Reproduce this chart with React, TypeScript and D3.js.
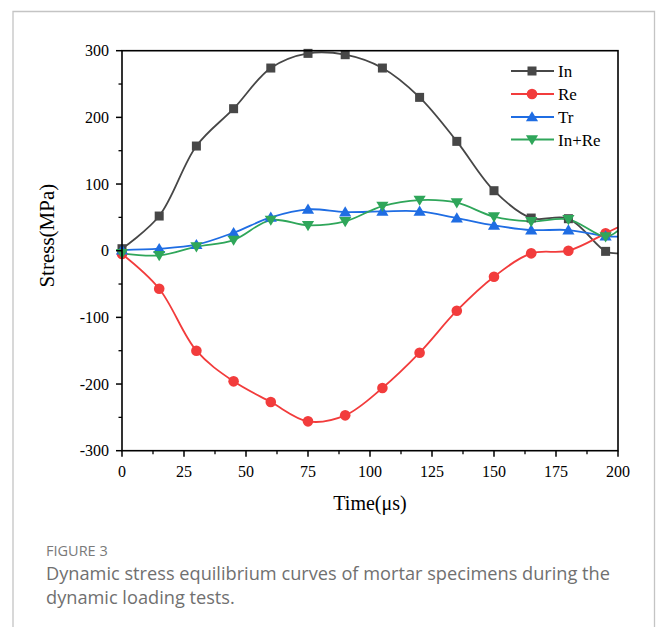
import React from "react";
import * as d3 from "d3";

const times = [0, 15, 30, 45, 60, 75, 90, 105, 120, 135, 150, 165, 180, 195, 200];
const inValues = [3, 52, 157, 213, 274, 296, 294, 274, 230, 164, 90, 49, 48, -1, -4];
const reValues = [-5, -57, -150, -196, -227, -256, -247, -206, -153, -90, -39, -4, 0, 26, 35];
const trValues = [1, 3, 9, 27, 50, 62, 58, 59, 59, 49, 38, 31, 31, 22, 21];
const inReValues = [-4, -7, 6, 16, 46, 38, 44, 67, 76, 72, 51, 44, 47, 21, 30];
const markerTimes = [0, 15, 30, 45, 60, 75, 90, 105, 120, 135, 150, 165, 180, 195];

const seriesNames = ["In", "Re", "Tr", "In+Re"];
const seriesColors = ["#474747", "#f23c3c", "#1f6de3", "#2fa65a"];
const seriesShapes = ["square", "circle", "triangle", "triangleDown"];
const seriesValues = [inValues, reValues, trValues, inReValues];

const xTicks = [0, 25, 50, 75, 100, 125, 150, 175, 200];
const yTicks = [-300, -200, -100, 0, 100, 200, 300];

function Marker({ shape, x, y, color }: { shape: string; x: number; y: number; color: string }) {
  if (shape === "square") return <rect x={x - 4.5} y={y - 4.5} width={9} height={9} fill={color} />;
  if (shape === "circle") return <circle cx={x} cy={y} r={5.3} fill={color} />;
  const s = 5.8;
  if (shape === "triangle")
    return <path d={`M${x},${y - s}L${x + s * 1.05},${y + s * 0.75}L${x - s * 1.05},${y + s * 0.75}Z`} fill={color} />;
  return <path d={`M${x},${y + s}L${x + s * 1.05},${y - s * 0.75}L${x - s * 1.05},${y - s * 0.75}Z`} fill={color} />;
}

export default function App() {
  const W = 656, H = 627;
  const x0 = 122, x1 = 618, yTop = 50.7, yBot = 450.7;
  const x = d3.scaleLinear().domain([0, 200]).range([x0, x1]);
  const y = d3.scaleLinear().domain([-300, 300]).range([yBot, yTop]);
  const line = d3
    .line<number>()
    .x((_, i) => x(times[i]))
    .y((d) => y(d))
    .curve(d3.curveCatmullRom.alpha(0.5));
  const serif = "'Liberation Serif', 'Times New Roman', serif";
  const sans = "'Open Sans', 'Noto Sans', sans-serif";
  const yMinor = d3.range(-250, 300, 100);
  const xMinor = d3.range(12.5, 200, 25);
  const legendY = [71, 94, 117, 139.5];

  return (
    <svg width={W} height={H} style={{ position: "absolute", left: 0, top: 0 }}>
      <rect x={0} y={0} width={W} height={H} fill="#fff" />
      <path d={`M13,${H + 5}V11.5H654.5V${H + 5}`} fill="none" stroke="#c4c4c4" strokeWidth={1.3} />
      <defs>
        <clipPath id="plotclip">
          <rect x={x0} y={yTop - 3} width={x1 - x0} height={yBot - yTop + 3} />
        </clipPath>
      </defs>
      <g clipPath="url(#plotclip)">
        {seriesValues.map((vals, si) => (
          <path key={si} d={line(vals) || ""} fill="none" stroke={seriesColors[si]} strokeWidth={1.8} />
        ))}
      </g>
      {seriesValues.map((vals, si) =>
        markerTimes.map((t, i) => (
          <Marker key={si + "-" + i} shape={seriesShapes[si]} x={x(t)} y={y(vals[i])} color={seriesColors[si]} />
        ))
      )}
      <rect x={x0} y={yTop} width={x1 - x0} height={yBot - yTop} fill="none" stroke="#000" strokeWidth={1.6} />
      {yTicks.map((t) => (
        <g key={"y" + t}>
          <line x1={x0 - 6} x2={x0} y1={y(t)} y2={y(t)} stroke="#000" strokeWidth={1.5} />
          <text x={x0 - 13} y={y(t) + 5.5} textAnchor="end" fontFamily={serif} fontSize={16}>
            {t}
          </text>
        </g>
      ))}
      {yMinor.map((t) => (
        <line key={"ym" + t} x1={x0 - 3.5} x2={x0} y1={y(t)} y2={y(t)} stroke="#000" strokeWidth={1.3} />
      ))}
      {xTicks.map((t) => (
        <g key={"x" + t}>
          <line x1={x(t)} x2={x(t)} y1={yBot} y2={yBot + 6} stroke="#000" strokeWidth={1.5} />
          <text x={x(t)} y={yBot + 26} textAnchor="middle" fontFamily={serif} fontSize={16}>
            {t}
          </text>
        </g>
      ))}
      {xMinor.map((t) => (
        <line key={"xm" + t} x1={x(t)} x2={x(t)} y1={yBot} y2={yBot + 3.5} stroke="#000" strokeWidth={1.3} />
      ))}
      <text x={370} y={510} textAnchor="middle" fontFamily={serif} fontSize={20}>
        Time(μs)
      </text>
      <text
        transform={`translate(54,${(yTop + yBot) / 2 - 15}) rotate(-90)`}
        textAnchor="middle"
        fontFamily={serif}
        fontSize={21}
      >
        Stress(MPa)
      </text>
      {seriesNames.map((n, i) => (
        <g key={"lg" + n}>
          <line x1={511} x2={554} y1={legendY[i]} y2={legendY[i]} stroke={seriesColors[i]} strokeWidth={1.8} />
          <Marker shape={seriesShapes[i]} x={532} y={legendY[i]} color={seriesColors[i]} />
          <text x={558} y={legendY[i] + 6} fontFamily={serif} fontSize={17}>
            {n}
          </text>
        </g>
      ))}
      <text x={46} y={556} fontFamily={sans} fontSize={14.5} fill="#7a7a7a" fontWeight={500}>
        FIGURE 3
      </text>
      <text x={46} y={580} fontFamily={sans} fontSize={18.2} fill="#707070">
        Dynamic stress equilibrium curves of mortar specimens during the
      </text>
      <text x={46} y={604} fontFamily={sans} fontSize={18.2} fill="#707070">
        dynamic loading tests.
      </text>
    </svg>
  );
}
